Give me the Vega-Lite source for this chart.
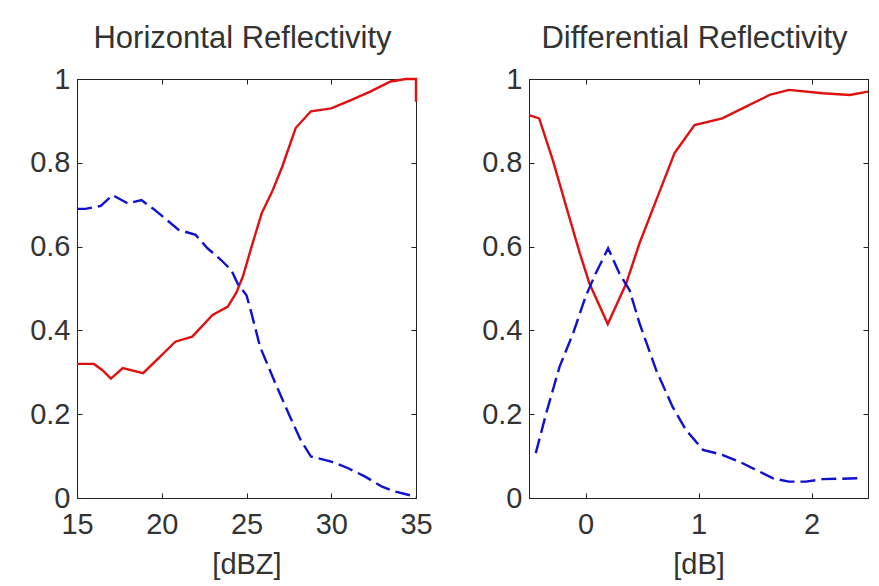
{
  "$schema": "https://vega.github.io/schema/vega-lite/v6.json",
  "background": "white",
  "padding": {"left": 29, "top": 22, "right": 5, "bottom": 5},
  "spacing": 48,
  "config": {
    "font": "Liberation Sans",
    "view": {"stroke": "#222", "strokeWidth": 1},
    "axis": {
      "grid": false,
      "domainColor": "#222",
      "tickColor": "#222",
      "tickSize": -5,
      "labelFont": "Liberation Sans",
      "labelFontSize": 29,
      "labelColor": "#333",
      "titleFont": "Liberation Sans",
      "titleFontSize": 29,
      "titleFontWeight": "normal",
      "titleColor": "#333",
      "labelFlush": false,
      "labelOverlap": false
    },
    "title": {"font": "Liberation Sans", "fontSize": 31, "fontWeight": "normal", "color": "#333", "baseline": "alphabetic", "offset": 10, "dx": -4}
  },
  "datasets": {
    "hz": [
      {"series": "red", "x": 15, "y": 0.32},
      {"series": "red", "x": 16, "y": 0.32},
      {"series": "red", "x": 16.5, "y": 0.305},
      {"series": "red", "x": 17, "y": 0.285},
      {"series": "red", "x": 17.7, "y": 0.31},
      {"series": "red", "x": 18.9, "y": 0.298},
      {"series": "red", "x": 19.8, "y": 0.333},
      {"series": "red", "x": 20.8, "y": 0.373},
      {"series": "red", "x": 21.8, "y": 0.385},
      {"series": "red", "x": 23.0, "y": 0.437},
      {"series": "red", "x": 23.9, "y": 0.457},
      {"series": "red", "x": 24.4, "y": 0.49},
      {"series": "red", "x": 24.8, "y": 0.53},
      {"series": "red", "x": 25.3, "y": 0.6},
      {"series": "red", "x": 25.9, "y": 0.68},
      {"series": "red", "x": 26.5, "y": 0.73},
      {"series": "red", "x": 27.1, "y": 0.79},
      {"series": "red", "x": 27.9, "y": 0.883},
      {"series": "red", "x": 28.8, "y": 0.923},
      {"series": "red", "x": 30.0, "y": 0.93},
      {"series": "red", "x": 31.2, "y": 0.95},
      {"series": "red", "x": 32.3, "y": 0.97},
      {"series": "red", "x": 33.5, "y": 0.994},
      {"series": "red", "x": 34.4, "y": 1.0},
      {"series": "red", "x": 35, "y": 1.0},
      {"series": "red", "x": 35, "y": 0.946},
      {"series": "blue", "x": 15, "y": 0.69},
      {"series": "blue", "x": 15.5, "y": 0.69},
      {"series": "blue", "x": 16.4, "y": 0.697},
      {"series": "blue", "x": 17.1, "y": 0.723},
      {"series": "blue", "x": 18.0, "y": 0.703},
      {"series": "blue", "x": 18.8, "y": 0.711},
      {"series": "blue", "x": 19.6, "y": 0.687},
      {"series": "blue", "x": 21.0, "y": 0.64},
      {"series": "blue", "x": 22.0, "y": 0.628},
      {"series": "blue", "x": 22.7, "y": 0.596},
      {"series": "blue", "x": 23.5, "y": 0.568},
      {"series": "blue", "x": 24.1, "y": 0.544},
      {"series": "blue", "x": 24.5, "y": 0.51},
      {"series": "blue", "x": 25.0, "y": 0.484},
      {"series": "blue", "x": 25.3, "y": 0.44},
      {"series": "blue", "x": 25.8, "y": 0.361},
      {"series": "blue", "x": 26.7, "y": 0.274},
      {"series": "blue", "x": 27.5, "y": 0.2},
      {"series": "blue", "x": 28.2, "y": 0.138},
      {"series": "blue", "x": 28.8, "y": 0.099},
      {"series": "blue", "x": 30.0, "y": 0.087},
      {"series": "blue", "x": 31.0, "y": 0.071},
      {"series": "blue", "x": 32.0, "y": 0.051},
      {"series": "blue", "x": 33.0, "y": 0.027},
      {"series": "blue", "x": 33.8, "y": 0.015},
      {"series": "blue", "x": 35, "y": 0.003}
    ],
    "zdr": [
      {"series": "red", "x": -0.5, "y": 0.914},
      {"series": "red", "x": -0.41, "y": 0.906},
      {"series": "red", "x": -0.29, "y": 0.807},
      {"series": "red", "x": -0.17, "y": 0.695},
      {"series": "red", "x": -0.05, "y": 0.584},
      {"series": "red", "x": 0.035, "y": 0.512},
      {"series": "red", "x": 0.197, "y": 0.415},
      {"series": "red", "x": 0.36, "y": 0.512},
      {"series": "red", "x": 0.478, "y": 0.608},
      {"series": "red", "x": 0.626, "y": 0.711},
      {"series": "red", "x": 0.788, "y": 0.823},
      {"series": "red", "x": 0.965, "y": 0.89},
      {"series": "red", "x": 1.21, "y": 0.906},
      {"series": "red", "x": 1.42, "y": 0.934},
      {"series": "red", "x": 1.63, "y": 0.962},
      {"series": "red", "x": 1.8, "y": 0.974},
      {"series": "red", "x": 2.1, "y": 0.966},
      {"series": "red", "x": 2.34, "y": 0.962},
      {"series": "red", "x": 2.5, "y": 0.97},
      {"series": "blue", "x": -0.44, "y": 0.107},
      {"series": "blue", "x": -0.35, "y": 0.2},
      {"series": "blue", "x": -0.23, "y": 0.313},
      {"series": "blue", "x": -0.11, "y": 0.393},
      {"series": "blue", "x": 0.0, "y": 0.48},
      {"series": "blue", "x": 0.09, "y": 0.536},
      {"series": "blue", "x": 0.2, "y": 0.596},
      {"series": "blue", "x": 0.3, "y": 0.536},
      {"series": "blue", "x": 0.39, "y": 0.496},
      {"series": "blue", "x": 0.478, "y": 0.417},
      {"series": "blue", "x": 0.626, "y": 0.305},
      {"series": "blue", "x": 0.77, "y": 0.218},
      {"series": "blue", "x": 0.89, "y": 0.162},
      {"series": "blue", "x": 1.04, "y": 0.115},
      {"series": "blue", "x": 1.21, "y": 0.103},
      {"series": "blue", "x": 1.39, "y": 0.083},
      {"series": "blue", "x": 1.54, "y": 0.063},
      {"series": "blue", "x": 1.66, "y": 0.047},
      {"series": "blue", "x": 1.8, "y": 0.039},
      {"series": "blue", "x": 1.95, "y": 0.039},
      {"series": "blue", "x": 2.1, "y": 0.045},
      {"series": "blue", "x": 2.41, "y": 0.047}
    ]
  },
  "hconcat": [
    {
      "width": 339,
      "height": 419,
      "title": "Horizontal Reflectivity",
      "data": {"name": "hz"},
      "layer": [
        {
          "transform": [{"filter": "datum.series === 'red'"}],
          "mark": {"type": "line", "color": "#e01010", "strokeWidth": 2.4},
          "encoding": {
            "x": {"field": "x", "type": "quantitative", "scale": {"domain": [15, 35], "nice": false, "zero": false},
                  "axis": {"values": [15, 20, 25, 30, 35], "title": "[dBZ]", "labelPadding": 17.5, "titlePadding": 10.5}},
            "y": {"field": "y", "type": "quantitative", "scale": {"domain": [0, 1], "nice": false},
                  "axis": {"values": [0, 0.2, 0.4, 0.6, 0.8, 1], "format": "~g", "title": null, "labelPadding": 12}}
          }
        },
        {
          "transform": [{"filter": "datum.series === 'blue'"}],
          "mark": {"type": "line", "color": "#1010d0", "strokeWidth": 2.4, "strokeDash": [15, 6]},
          "encoding": {
            "x": {"field": "x", "type": "quantitative", "scale": {"domain": [15, 35], "nice": false, "zero": false},
                  "axis": {"orient": "top", "labels": false, "title": null, "values": [15, 20, 25, 30, 35]}},
            "y": {"field": "y", "type": "quantitative", "scale": {"domain": [0, 1], "nice": false},
                  "axis": {"orient": "right", "labels": false, "title": null, "values": [0, 0.2, 0.4, 0.6, 0.8, 1]}}
          }
        }
      ],
      "resolve": {"axis": {"x": "independent", "y": "independent"}}
    },
    {
      "width": 339,
      "height": 419,
      "title": "Differential Reflectivity",
      "data": {"name": "zdr"},
      "layer": [
        {
          "transform": [{"filter": "datum.series === 'red'"}],
          "mark": {"type": "line", "color": "#e01010", "strokeWidth": 2.4},
          "encoding": {
            "x": {"field": "x", "type": "quantitative", "scale": {"domain": [-0.5, 2.5], "nice": false, "zero": false},
                  "axis": {"values": [0, 1, 2], "title": "[dB]", "labelPadding": 17.5, "titlePadding": 10.5}},
            "y": {"field": "y", "type": "quantitative", "scale": {"domain": [0, 1], "nice": false},
                  "axis": {"values": [0, 0.2, 0.4, 0.6, 0.8, 1], "format": "~g", "title": null, "labelPadding": 12}}
          }
        },
        {
          "transform": [{"filter": "datum.series === 'blue'"}],
          "mark": {"type": "line", "color": "#1010d0", "strokeWidth": 2.4, "strokeDash": [15, 6]},
          "encoding": {
            "x": {"field": "x", "type": "quantitative", "scale": {"domain": [-0.5, 2.5], "nice": false, "zero": false},
                  "axis": {"orient": "top", "labels": false, "title": null, "values": [0, 1, 2]}},
            "y": {"field": "y", "type": "quantitative", "scale": {"domain": [0, 1], "nice": false},
                  "axis": {"orient": "right", "labels": false, "title": null, "values": [0, 0.2, 0.4, 0.6, 0.8, 1]}}
          }
        }
      ],
      "resolve": {"axis": {"x": "independent", "y": "independent"}}
    }
  ]
}
